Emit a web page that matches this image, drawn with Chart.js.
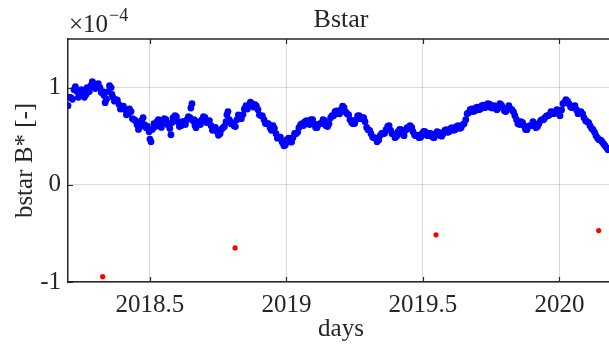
<!DOCTYPE html>
<html lang="en">
<head>
<meta charset="UTF-8" />
<title>Bstar</title>
<script src="https://cdn.jsdelivr.net/npm/chart.js"></script>
<style>
    html, body {
        margin: 0;
        padding: 0;
        background: #fff;
        overflow: hidden;
    }
</style>
</head>
<body>
<canvas id="bstarChart" width="630" height="347"></canvas>
<script>
    // epoch (decimal year) and fitted B* (units of 1e-4), even-numbered passes
    const days = [
        2018.200, 2018.211, 2018.222, 2018.233, 2018.244, 2018.255, 2018.266, 2018.273, 2018.284, 2018.295,
        2018.306, 2018.317, 2018.328, 2018.336, 2018.347, 2018.358, 2018.365, 2018.376, 2018.387, 2018.398,
        2018.409, 2018.420, 2018.431, 2018.442, 2018.453, 2018.464, 2018.475, 2018.486, 2018.497, 2018.504,
        2018.515, 2018.526, 2018.537, 2018.548, 2018.559, 2018.570, 2018.577, 2018.585, 2018.592, 2018.603,
        2018.614, 2018.625, 2018.636, 2018.647, 2018.654, 2018.662, 2018.669, 2018.680, 2018.691, 2018.702,
        2018.713, 2018.724, 2018.735, 2018.746, 2018.757, 2018.768, 2018.779, 2018.786, 2018.797, 2018.808,
        2018.819, 2018.830, 2018.841, 2018.852, 2018.863, 2018.874, 2018.885, 2018.896, 2018.907, 2018.918,
        2018.929, 2018.940, 2018.951, 2018.962, 2018.973, 2018.984, 2018.991, 2019.002, 2019.013, 2019.024,
        2019.035, 2019.046, 2019.057, 2019.068, 2019.079, 2019.090, 2019.101, 2019.112, 2019.123, 2019.134,
        2019.145, 2019.156, 2019.167, 2019.178, 2019.189, 2019.200, 2019.211, 2019.222, 2019.233, 2019.244,
        2019.255, 2019.266, 2019.277, 2019.288, 2019.299, 2019.310, 2019.321, 2019.332, 2019.343, 2019.354,
        2019.365, 2019.376, 2019.387, 2019.398, 2019.409, 2019.420, 2019.431, 2019.442, 2019.453, 2019.464,
        2019.475, 2019.486, 2019.497, 2019.508, 2019.519, 2019.530, 2019.541, 2019.552, 2019.563, 2019.574,
        2019.585, 2019.596, 2019.607, 2019.618, 2019.629, 2019.640, 2019.651, 2019.662, 2019.673, 2019.684,
        2019.695, 2019.705, 2019.716, 2019.727, 2019.738, 2019.749, 2019.760, 2019.771, 2019.782, 2019.793,
        2019.804, 2019.815, 2019.826, 2019.837, 2019.848, 2019.859, 2019.870, 2019.881, 2019.892, 2019.903,
        2019.914, 2019.925, 2019.936, 2019.947, 2019.958, 2019.969, 2019.980, 2019.991, 2020.002, 2020.013,
        2020.024, 2020.035, 2020.046, 2020.057, 2020.068, 2020.079, 2020.090, 2020.101, 2020.112, 2020.123,
        2020.134, 2020.145, 2020.156, 2020.167, 2020.178
    ];
    const bstar = [
        0.814, 0.897, 0.979, 0.959, 0.928, 0.948, 0.928, 0.979, 1.021, 1.041,
        1.010, 1.000, 0.959, 0.845, 0.959, 1.000, 0.897, 0.876, 0.825, 0.794,
        0.773, 0.732, 0.753, 0.670, 0.619, 0.598, 0.691, 0.588, 0.546, 0.443,
        0.629, 0.649, 0.608, 0.649, 0.670, 0.619, 0.515, 0.691, 0.711, 0.649,
        0.608, 0.649, 0.670, 0.691, 0.835, 0.670, 0.588, 0.649, 0.670, 0.691,
        0.649, 0.608, 0.567, 0.546, 0.526, 0.588, 0.649, 0.753, 0.629, 0.608,
        0.670, 0.711, 0.722, 0.814, 0.814, 0.835, 0.825, 0.773, 0.711, 0.670,
        0.629, 0.588, 0.608, 0.526, 0.485, 0.443, 0.402, 0.464, 0.443, 0.485,
        0.526, 0.588, 0.629, 0.649, 0.629, 0.670, 0.629, 0.588, 0.629, 0.670,
        0.608, 0.629, 0.711, 0.753, 0.732, 0.773, 0.794, 0.732, 0.670, 0.629,
        0.670, 0.711, 0.691, 0.649, 0.567, 0.526, 0.485, 0.443, 0.505, 0.526,
        0.567, 0.608, 0.526, 0.485, 0.546, 0.567, 0.505, 0.588, 0.608, 0.546,
        0.505, 0.485, 0.526, 0.546, 0.505, 0.526, 0.485, 0.546, 0.505, 0.526,
        0.567, 0.546, 0.588, 0.567, 0.608, 0.588, 0.629, 0.732, 0.773, 0.753,
        0.794, 0.773, 0.814, 0.794, 0.835, 0.794, 0.814, 0.773, 0.835, 0.794,
        0.753, 0.814, 0.773, 0.711, 0.629, 0.649, 0.608, 0.567, 0.608, 0.649,
        0.588, 0.629, 0.670, 0.691, 0.711, 0.753, 0.732, 0.773, 0.711, 0.835,
        0.876, 0.835, 0.794, 0.814, 0.732, 0.753, 0.691, 0.649, 0.608, 0.567,
        0.505, 0.464, 0.443, 0.402, 0.361
    ];

    // odd-numbered passes
    const days2 = [
        2018.205, 2018.216, 2018.227, 2018.238, 2018.249, 2018.260, 2018.270, 2018.278, 2018.289, 2018.300,
        2018.311, 2018.322, 2018.332, 2018.341, 2018.352, 2018.361, 2018.370, 2018.381, 2018.392, 2018.403,
        2018.414, 2018.425, 2018.436, 2018.447, 2018.458, 2018.469, 2018.480, 2018.491, 2018.500, 2018.509,
        2018.520, 2018.531, 2018.542, 2018.553, 2018.564, 2018.573, 2018.581, 2018.588, 2018.597, 2018.608,
        2018.619, 2018.630, 2018.641, 2018.650, 2018.658, 2018.665, 2018.674, 2018.685, 2018.696, 2018.707,
        2018.718, 2018.729, 2018.740, 2018.751, 2018.762, 2018.773, 2018.782, 2018.791, 2018.802, 2018.813,
        2018.824, 2018.835, 2018.846, 2018.857, 2018.868, 2018.879, 2018.890, 2018.901, 2018.912, 2018.923,
        2018.934, 2018.945, 2018.956, 2018.967, 2018.978, 2018.987, 2018.996, 2019.008, 2019.019, 2019.030,
        2019.041, 2019.052, 2019.063, 2019.074, 2019.085, 2019.096, 2019.107, 2019.118, 2019.129, 2019.140,
        2019.151, 2019.162, 2019.173, 2019.184, 2019.195, 2019.206, 2019.217, 2019.228, 2019.239, 2019.250,
        2019.261, 2019.272, 2019.283, 2019.294, 2019.305, 2019.316, 2019.327, 2019.338, 2019.349, 2019.360,
        2019.371, 2019.382, 2019.393, 2019.404, 2019.415, 2019.426, 2019.437, 2019.448, 2019.459, 2019.470,
        2019.481, 2019.492, 2019.503, 2019.514, 2019.525, 2019.536, 2019.547, 2019.558, 2019.569, 2019.580,
        2019.591, 2019.602, 2019.613, 2019.624, 2019.635, 2019.646, 2019.657, 2019.668, 2019.679, 2019.690,
        2019.700, 2019.711, 2019.722, 2019.733, 2019.744, 2019.755, 2019.766, 2019.777, 2019.788, 2019.799,
        2019.810, 2019.821, 2019.832, 2019.843, 2019.854, 2019.865, 2019.876, 2019.887, 2019.898, 2019.909,
        2019.920, 2019.931, 2019.942, 2019.953, 2019.964, 2019.975, 2019.986, 2019.997, 2020.008, 2020.019,
        2020.030, 2020.041, 2020.052, 2020.063, 2020.074, 2020.085, 2020.096, 2020.107, 2020.118, 2020.129,
        2020.140, 2020.151, 2020.162, 2020.173
    ];
    const bstar2 = [
        0.90, 0.88, 1.01, 0.90, 0.98, 0.90, 1.00, 0.96, 1.06, 0.99,
        1.04, 0.95, 0.92, 0.88, 1.02, 0.93, 0.86, 0.87, 0.78, 0.81,
        0.72, 0.78, 0.68, 0.66, 0.57, 0.66, 0.62, 0.60, 0.47, 0.57,
        0.60, 0.67, 0.59, 0.68, 0.62, 0.58, 0.64, 0.66, 0.70, 0.60,
        0.65, 0.62, 0.70, 0.79, 0.66, 0.61, 0.64, 0.62, 0.70, 0.64,
        0.66, 0.56, 0.59, 0.51, 0.57, 0.60, 0.72, 0.67, 0.64, 0.60,
        0.72, 0.68, 0.78, 0.78, 0.85, 0.80, 0.81, 0.72, 0.71, 0.63,
        0.63, 0.56, 0.58, 0.48, 0.49, 0.43, 0.41, 0.48, 0.44, 0.53,
        0.54, 0.62, 0.61, 0.66, 0.62, 0.67, 0.59, 0.62, 0.63, 0.66,
        0.60, 0.69, 0.71, 0.76, 0.73, 0.81, 0.75, 0.72, 0.64, 0.63,
        0.71, 0.68, 0.69, 0.59, 0.56, 0.49, 0.48, 0.46, 0.53, 0.53,
        0.60, 0.56, 0.52, 0.50, 0.57, 0.52, 0.56, 0.58, 0.59, 0.51,
        0.51, 0.49, 0.55, 0.51, 0.53, 0.49, 0.52, 0.54, 0.50, 0.56,
        0.54, 0.58, 0.56, 0.60, 0.58, 0.62, 0.67, 0.74, 0.78, 0.76,
        0.80, 0.78, 0.82, 0.80, 0.83, 0.79, 0.81, 0.79, 0.82, 0.76,
        0.79, 0.78, 0.75, 0.67, 0.62, 0.64, 0.57, 0.60, 0.61, 0.63,
        0.60, 0.66, 0.67, 0.71, 0.72, 0.75, 0.74, 0.76, 0.77, 0.85,
        0.86, 0.80, 0.81, 0.77, 0.74, 0.73, 0.66, 0.64, 0.58, 0.54,
        0.48, 0.46, 0.42, 0.38
    ];

    // rejected fits
    const outlierDays = [2018.327, 2018.812, 2019.548, 2020.144];
    const outlierBstar = [-0.945, -0.649, -0.515, -0.471];

    const xTicks = [2018.5, 2019, 2019.5, 2020];
    const yTicks = [-1, 0, 1];

    const fontFamily = "'Liberation Serif', 'Times New Roman', serif";
    const axisColor = "#262626";

    const toPoints = (xs, ys) => xs.map((d, i) => ({ x: d, y: ys[i] }));

    // MATLAB-style box: top edge, inward tick marks and annotations
    const matlabAxes = {
        id: "matlabAxes",
        afterDraw(chart) {
            const { ctx, chartArea: a, scales: { x, y } } = chart;
            ctx.save();
            ctx.strokeStyle = axisColor;
            ctx.lineWidth = 1.5;
            ctx.beginPath();
            ctx.moveTo(a.left, a.top);
            ctx.lineTo(a.right, a.top);
            ctx.stroke();

            ctx.lineWidth = 1.2;
            ctx.beginPath();
            xTicks.forEach(v => {
                const px = Math.round(x.getPixelForValue(v)) + 0.5;
                ctx.moveTo(px, a.bottom);
                ctx.lineTo(px, a.bottom - 5);
                ctx.moveTo(px, a.top);
                ctx.lineTo(px, a.top + 5);
            });
            yTicks.forEach(v => {
                const py = Math.round(y.getPixelForValue(v)) + 0.5;
                ctx.moveTo(a.left, py);
                ctx.lineTo(a.left + 5, py);
            });
            ctx.stroke();

            ctx.fillStyle = axisColor;
            const cx = (a.left + a.right) / 2;

            ctx.textAlign = "center";
            ctx.textBaseline = "alphabetic";
            ctx.font = "26px " + fontFamily;
            ctx.fillText("Bstar", cx, 27);

            ctx.font = "25px " + fontFamily;
            ctx.fillText("days", cx, 336);

            ctx.save();
            ctx.translate(32, (a.top + a.bottom) / 2);
            ctx.rotate(-Math.PI / 2);
            ctx.fillText("bstar B* [-]", 0, 0);
            ctx.restore();

            // exponent label
            ctx.textAlign = "left";
            ctx.font = "25px " + fontFamily;
            ctx.fillText("\u00d710", a.left + 1, 32);
            const w = ctx.measureText("\u00d710").width;
            ctx.font = "18px " + fontFamily;
            ctx.fillText("\u22124", a.left + 2 + w, 21);
            ctx.restore();
        }
    };

    new Chart(document.getElementById("bstarChart"), {
        type: "scatter",
        data: {
            datasets: [
                {
                    label: "bstar",
                    data: toPoints(days, bstar),
                    backgroundColor: "#0000ff",
                    borderWidth: 0,
                    pointRadius: 3.4
                },
                {
                    label: "bstar (odd)",
                    data: toPoints(days2, bstar2),
                    backgroundColor: "#0000ff",
                    borderWidth: 0,
                    pointRadius: 3.4
                },
                {
                    label: "outliers",
                    data: toPoints(outlierDays, outlierBstar),
                    backgroundColor: "#ff0000",
                    borderWidth: 0,
                    pointRadius: 2.6
                }
            ]
        },
        plugins: [matlabAxes],
        options: {
            responsive: false,
            animation: false,
            events: [],
            layout: { padding: { top: 39, right: 16, left: 0, bottom: 0 } },
            plugins: {
                legend: { display: false },
                tooltip: { enabled: false }
            },
            scales: {
                x: {
                    type: "linear",
                    min: 2018.2,
                    max: 2020.2,
                    afterBuildTicks: s => { s.ticks = xTicks.map(v => ({ value: v })); },
                    afterFit: s => { s.height = 65; },
                    grid: { color: "rgba(0,0,0,0.15)", drawTicks: false },
                    border: { color: axisColor, width: 1.5 },
                    ticks: {
                        padding: 8,
                        color: axisColor,
                        font: { family: fontFamily, size: 25 },
                        callback: v => String(v)
                    }
                },
                y: {
                    min: -1,
                    max: 1.5,
                    afterBuildTicks: s => { s.ticks = yTicks.map(v => ({ value: v })); },
                    afterFit: s => { s.width = 68; },
                    grid: { color: "rgba(0,0,0,0.15)", drawTicks: false },
                    border: { color: axisColor, width: 1.5 },
                    ticks: {
                        padding: 7,
                        color: axisColor,
                        font: { family: fontFamily, size: 25 },
                        callback: v => String(v)
                    }
                }
            }
        }
    });
</script>
</body>
</html>
